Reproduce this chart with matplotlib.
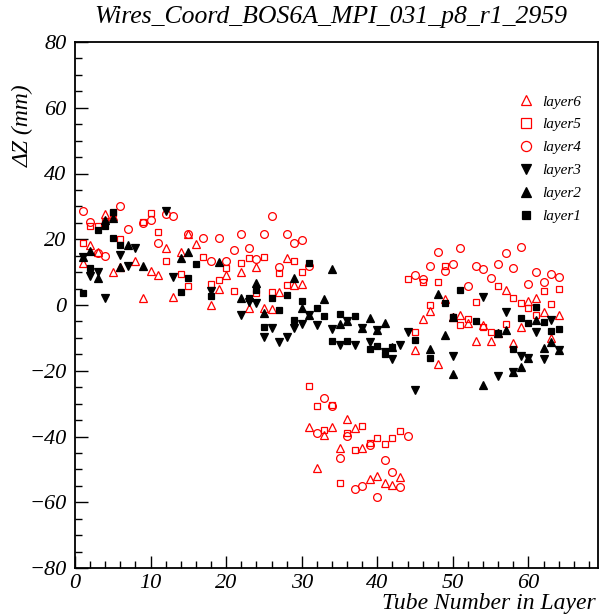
import matplotlib
matplotlib.use("Agg")
import matplotlib.pyplot as plt
from matplotlib.ticker import MultipleLocator

plt.rcParams['font.family'] = ['Liberation Serif', 'DejaVu Serif']

# ---------------- data ----------------
layer6_x = [4, 5, 2, 3, 1, 6, 5, 8, 10, 11, 9, 12, 13, 14, 16, 15, 20, 22, 24, 28, 19, 18, 29, 30, 27, 23, 25, 26,
            31, 33, 34, 36, 37, 35, 38, 32, 39, 40, 41, 42, 43,
            47, 46, 45, 48, 49, 51, 52, 54, 53, 55, 50, 57, 60, 61, 62, 64, 59, 58, 63, 56]
layer6_y = [27.6, 27.0, 18.4, 16.0, 12.7, 11.7, 10.0, 13.4, 10.3, 9.1, 2.0, 17.4, 2.5, 16.2, 18.5, 21.5, 9.1, 10.1, 11.7, 14.2, 4.9, 0.0, 6.1, 6.3, 4.1, -0.8, -0.8, -1.2,
            -37.0, -39.5, -37.2, -34.8, -37.5, -43.6, -43.6, -49.7, -53.0, -52.0, -54.0, -54.7, -52.4,
            -1.8, -4.3, -13.7, -18.0, 1.8, -3.0, -5.4, -6.1, -11.1, -11.1, -3.7, 4.7, 1.2, 2.0, -2.0, -3.0, -6.6, -11.7, -10.1, -8.6]

layer5_x = [1, 2, 3, 4, 5, 6, 9, 10, 11, 12, 14, 15, 17, 20, 22, 23, 25, 29, 27, 30, 18, 19, 21, 28, 24, 26,
            31, 32, 34, 33, 38, 36, 37, 39, 40, 41, 42, 43, 35,
            44, 46, 48, 47, 45, 49, 53, 52, 51, 50, 54, 55, 56, 58, 59, 60, 62, 64, 63, 61, 57]
layer5_y = [18.8, 24.1, 23.9, 25.5, 27.9, 20.1, 25.3, 27.9, 22.1, 13.4, 9.3, 5.9, 14.7, 11.4, 12.7, 14.4, 14.7, 13.4, 9.6, 10.1, 6.3, 7.6, 4.3, 6.1, 3.6, 3.9,
            -24.6, -30.7, -30.4, -38.0, -36.8, -38.8, -44.1, -41.9, -40.6, -42.3, -40.6, -38.3, -54.0,
            7.8, 7.1, 7.1, 0.0, -8.1, 11.9, 1.0, -4.4, -6.1, -3.8, -6.6, -8.1, 5.8, 2.2, 0.7, -1.0, 4.3, 4.8, 0.3, -3.0, -5.8]

layer4_x = [1, 2, 6, 7, 9, 10, 12, 13, 3, 4, 15, 11,
            17, 19, 22, 25, 28, 21, 23, 29, 30, 18, 20, 24, 27, 26, 31,
            33, 34, 32, 36, 39, 44, 35, 41, 42, 43, 37, 38, 40,
            45, 47, 48, 46, 51, 49, 50, 53, 54, 56, 55, 52, 59, 57, 58, 61, 63, 64, 62, 60]
layer4_y = [28.6, 25.3, 30.1, 23.1, 25.0, 25.9, 27.6, 27.2, 15.7, 14.9, 21.5, 18.8,
            20.5, 20.3, 21.6, 21.6, 21.5, 16.7, 17.2, 19.0, 19.8, 13.5, 13.4, 14.0, 11.7, 27.2, 11.9,
            -28.4, -30.8, -39.0, -39.8, -42.6, -39.8, -46.6, -47.3, -50.7, -55.5, -56.1, -55.1, -58.5,
            9.1, 11.9, 16.2, 7.8, 17.2, 10.4, 12.4, 11.9, 10.9, 12.5, 8.1, 5.8, 17.5, 15.9, 11.2, 10.1, 9.3, 8.6, 7.1, 6.4]

layer3_x = [1, 2, 3, 4, 6, 7, 8, 12, 13, 18, 23, 24, 22, 26, 25, 27, 28, 29, 30, 32, 31, 34, 35, 36, 37, 38, 40, 39,
            41, 42, 43, 44, 45, 54, 50, 56, 57, 61, 63, 64, 59, 60, 62, 58]
layer3_y = [14.7, 8.8, 10.1, 2.0, 15.2, 12.0, 17.4, 28.6, 8.6, 4.4, 1.0, 0.5, -3.0, -6.9, -9.6, -11.2, -9.8, -7.1, -5.9, -6.1, -3.0, -7.4, -12.2, -4.8, -12.2, -7.1, -7.6, -11.4,
            -14.2, -16.5, -12.2, -8.1, -25.9, 2.3, -15.5, -21.6, -2.0, -8.3, -4.6, -13.7, -15.5, -16.0, -16.5, -20.3]

layer2_x = [1, 2, 3, 4, 5, 6, 7, 9, 14, 15, 19, 24, 22, 25, 29, 30, 31, 33, 34, 35, 36, 38, 39, 40, 41, 42,
            47, 48, 49, 50, 50, 54, 56, 57, 61, 62, 63, 64, 60, 58, 59]
layer2_y = [14.7, 16.4, 8.1, 25.9, 26.4, 11.7, 18.1, 12.0, 14.4, 16.0, 13.2, 6.6, 2.2, -2.5, 8.1, -0.8, -3.0, 1.7, 10.8, -5.8, -4.8, -7.1, -4.0, -7.6, -5.4, -12.7,
            -13.5, 3.3, -9.1, -3.7, -21.0, -24.3, -8.6, -7.6, -4.6, -13.2, -11.4, -13.7, -16.0, -20.3, -19.0]

layer1_x = [1, 2, 3, 4, 5, 5, 6, 15, 16, 14, 18, 23, 26, 28, 30, 31, 24, 27, 32, 25, 29, 33, 35, 37, 34, 36, 39, 40, 41, 42,
            45, 47, 49, 50, 51, 53, 56, 58, 59, 60, 61, 62, 63, 64]
layer1_y = [3.7, 11.3, 22.9, 24.1, 28.4, 20.3, 18.1, 8.1, 12.4, 3.9, 2.8, 2.2, 2.0, 3.0, 1.2, 12.9, 4.5, -1.5, -0.8, -6.6, -4.6, -3.4, -2.8, -3.3, -10.8, -10.8, -13.5, -12.5, -14.9, -12.7,
            -10.6, -16.2, 0.5, -3.7, 4.7, -5.0, -8.6, -13.4, -4.0, -5.6, -0.5, -5.3, -7.9, -7.2]

series = [
    ("layer6", layer6_x, layer6_y, '^', 'none', 'red', 5.6),
    ("layer5", layer5_x, layer5_y, 's', 'none', 'red', 5.0),
    ("layer4", layer4_x, layer4_y, 'o', 'none', 'red', 5.6),
    ("layer3", layer3_x, layer3_y, 'v', 'black', 'black', 5.2),
    ("layer2", layer2_x, layer2_y, '^', 'black', 'black', 5.2),
    ("layer1", layer1_x, layer1_y, 's', 'black', 'black', 4.6),
]

# ---------------- figure ----------------
W, H = 601, 615
fig = plt.figure(figsize=(W / 100, H / 100), dpi=100)
ax = fig.add_axes([75 / W, 1 - 568 / H, (598 - 75) / W, (568 - 42) / H])

for name, xs, ys, mk, fc, ec, ms in series:
    ax.plot(xs, ys, linestyle='none', marker=mk, markersize=ms,
            markerfacecolor=fc, markeredgecolor=ec, markeredgewidth=0.9, label=name)

ax.set_xlim(0, 69.2)
ax.set_ylim(-80, 80)
ax.xaxis.set_major_locator(MultipleLocator(10))
ax.xaxis.set_minor_locator(MultipleLocator(2))
ax.yaxis.set_major_locator(MultipleLocator(20))
ax.yaxis.set_minor_locator(MultipleLocator(5))
ax.tick_params(which='both', direction='in', top=False, right=False)
ax.tick_params(which='major', length=9, width=1)
ax.tick_params(which='minor', length=5, width=1)
ax.tick_params(axis='both', labelsize=16)
ax.tick_params(axis='x', pad=4)
ax.tick_params(axis='y', pad=6)
for lab in ax.get_xticklabels() + ax.get_yticklabels():
    lab.set_fontstyle('italic')
for sp in ax.spines.values():
    sp.set_linewidth(1.3)

leg = ax.legend(loc='upper right', bbox_to_anchor=(0.98, 0.911), frameon=False,
                prop={'style': 'italic', 'size': 11}, handletextpad=0.35,
                labelspacing=0.60, numpoints=1, borderaxespad=0, markerscale=1.3,
                handlelength=1.5)

fig.text(331 / W, 1 - 17 / H, "Wires_Coord_BOS6A_MPI_031_p8_r1_2959",
         ha='center', va='center', fontsize=18.5, style='italic')
fig.text(23 / W, 1 - 84 / H, "ΔZ (mm)", rotation=90, ha='center', va='top',
         fontsize=17, style='italic')
fig.text(596 / W, 1 - 604 / H, "Tube Number in Layer", ha='right', va='center',
         fontsize=17, style='italic')

fig.savefig("out.png", dpi=100)
